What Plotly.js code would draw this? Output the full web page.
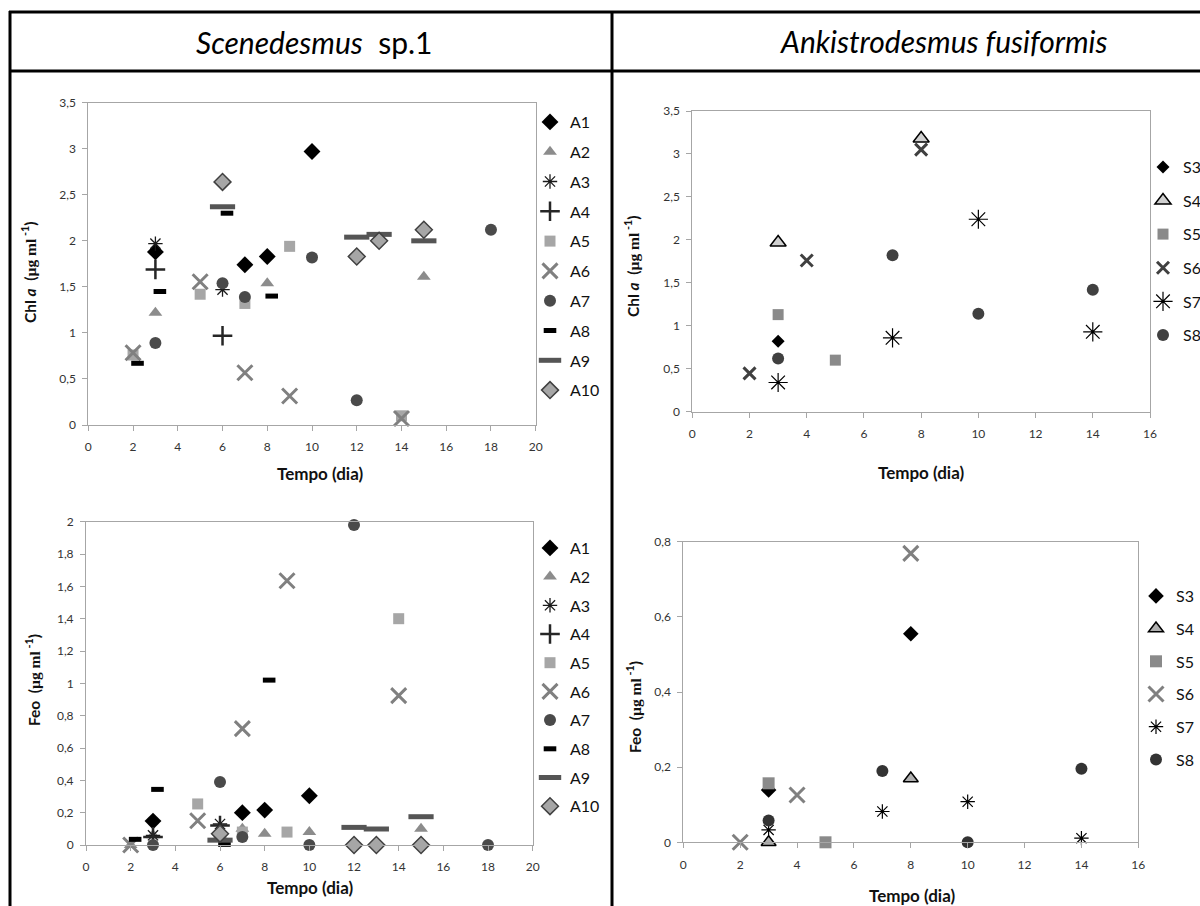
<!DOCTYPE html>
<html>
<head>
<meta charset="utf-8">
<script src="https://cdn.plot.ly/plotly-3.0.1.min.js"></script>
<style>
html,body{margin:0;padding:0;background:#fff;overflow:hidden;width:1200px;height:906px;}
#chart{width:1200px;height:906px;display:block;}
</style>
</head>
<body>
<div id="chart"></div>
<script>
// ---------------- DATA ----------------
// Scenedesmus sp.1 — Chl a (µg ml-1)
const chlA1_x = [3, 7, 8, 10];           const chlA1_y = [1.88, 1.74, 1.83, 2.97];
const chlA2_x = [3, 8, 15];              const chlA2_y = [1.22, 1.54, 1.61];
const chlA3_x = [3, 6];                  const chlA3_y = [1.97, 1.47];
const chlA4_x = [3, 6];                  const chlA4_y = [1.69, 0.97];
const chlA5_x = [2, 5, 7, 9, 14];        const chlA5_y = [0.76, 1.42, 1.32, 1.94, 0.1];
const chlA6_x = [2, 5, 7, 9, 14];        const chlA6_y = [0.785, 1.556, 0.568, 0.315, 0.07];
const chlA7_x = [3, 6, 7, 10, 12, 18];   const chlA7_y = [0.89, 1.54, 1.39, 1.82, 0.27, 2.12];
const chlA8_x = [2.2, 3.2, 6.2, 8.2];    const chlA8_y = [0.67, 1.45, 2.30, 1.40];
const chlA9_x = [6, 12, 13, 15];         const chlA9_y = [2.37, 2.04, 2.07, 2.0];
const chlA10_x = [6, 12, 13, 15];        const chlA10_y = [2.64, 1.83, 2.0, 2.12];

// Scenedesmus sp.1 — Feo (µg ml-1)
const feoA1_x = [3, 7, 8, 10];           const feoA1_y = [0.148, 0.2, 0.216, 0.305];
const feoA2_x = [2, 3, 6, 7, 8, 10, 15]; const feoA2_y = [0, 0.06, 0.06, 0.1, 0.07, 0.08, 0.1];
const feoA3_x = [3, 6];                  const feoA3_y = [0.06, 0.13];
const feoA4_x = [3, 6];                  const feoA4_y = [0.05, 0.12];
const feoA5_x = [5, 7, 9, 14];           const feoA5_y = [0.254, 0.08, 0.08, 1.40];
const feoA6_x = [2, 5, 7, 9, 14];        const feoA6_y = [0, 0.15, 0.72, 1.635, 0.924];
const feoA7_x = [3, 6, 7, 10, 12, 18];   const feoA7_y = [0, 0.39, 0.05, 0, 1.98, 0];
const feoA8_x = [2.2, 3.2, 6.2, 8.2];    const feoA8_y = [0.035, 0.344, 0.004, 1.02];
const feoA9_x = [6, 12, 13, 15];         const feoA9_y = [0.03, 0.109, 0.099, 0.175];
const feoA10_x = [6, 12, 13, 15];        const feoA10_y = [0.07, 0, 0, 0];

// Ankistrodesmus fusiformis — Chl a (µg ml-1)
const chlS3_x = [3];                     const chlS3_y = [0.82];
const chlS4_x = [3, 8];                  const chlS4_y = [1.97, 3.18];
const chlS5_x = [3, 5];                  const chlS5_y = [1.13, 0.60];
const chlS6_x = [2, 4, 8];               const chlS6_y = [0.446, 1.76, 3.05];
const chlS7_x = [3, 7, 10, 14];          const chlS7_y = [0.34, 0.86, 2.24, 0.93];
const chlS8_x = [3, 7, 10, 14];          const chlS8_y = [0.62, 1.82, 1.14, 1.42];

// Ankistrodesmus fusiformis — Feo (µg ml-1)
const feoS3_x = [3, 8];                  const feoS3_y = [0.139, 0.555];
const feoS4_x = [3, 8];                  const feoS4_y = [0, 0.17];
const feoS5_x = [3, 5];                  const feoS5_y = [0.157, 0];
const feoS6_x = [2, 4, 8];               const feoS6_y = [0, 0.126, 0.769];
const feoS7_x = [3, 7, 10, 14];          const feoS7_y = [0.033, 0.082, 0.108, 0.011];
const feoS8_x = [3, 7, 10, 14];          const feoS8_y = [0.058, 0.19, 0, 0.196];

const seriesA = ['A1','A2','A3','A4','A5','A6','A7','A8','A9','A10'];
const seriesS = ['S3','S4','S5','S6','S7','S8'];

// ---------------- STYLES ----------------
const styleA = {
  A1: {symbol:'diamond', size:13, color:'#000000'},
  A2: {symbol:'triangle-up', size:12, color:'#8c8c8c'},
  A3: {symbol:'asterisk-open', size:12, color:'#1a1a1a', line:{color:'#1a1a1a', width:1.3}},
  A4: {symbol:'cross-thin-open', size:14, color:'#262626', line:{color:'#262626', width:2.5}},
  A5: {symbol:'square', size:11, color:'#a6a6a6'},
  A6: {symbol:'x-thin-open', size:15, color:'#808080', line:{color:'#808080', width:3}},
  A7: {symbol:'circle', size:12, color:'#4a4a4a'},
  A8: {symbol:'line-ew-open', size:9, color:'#000000', line:{color:'#000000', width:5}},
  A9: {symbol:'line-ew-open', size:18, color:'#555555', line:{color:'#555555', width:5}},
  A10:{symbol:'diamond', size:13, color:'#a6a6a6', line:{color:'#404040', width:1.5}}
};
const styleS_top = {
  S3: {symbol:'diamond', size:10, color:'#000000'},
  S4: {symbol:'triangle-up', size:14, color:'#d0d0d0', line:{color:'#000000', width:1.5}},
  S5: {symbol:'square', size:11, color:'#8a8a8a'},
  S6: {symbol:'x-thin-open', size:12, color:'#404040', line:{color:'#404040', width:3}},
  S7: {symbol:'asterisk-open', size:16, color:'#000000', line:{color:'#000000', width:1.2}},
  S8: {symbol:'circle', size:12, color:'#404040'}
};
const styleS_bot = {
  S3: {symbol:'diamond', size:12, color:'#000000'},
  S4: {symbol:'triangle-up', size:13, color:'#b0b0b0', line:{color:'#000000', width:1.5}},
  S5: {symbol:'square', size:12, color:'#8a8a8a'},
  S6: {symbol:'x-thin-open', size:15, color:'#808080', line:{color:'#808080', width:3}},
  S7: {symbol:'asterisk-open', size:12, color:'#000000', line:{color:'#000000', width:1.2}},
  S8: {symbol:'circle', size:12, color:'#333333'}
};

function trace(x, y, name, st, ax, lg) {
  const m = {symbol: st.symbol, size: st.size, color: st.color};
  if (st.line) m.line = st.line;
  return {type:'scatter', mode:'markers', x:x, y:y, name:name, marker:m,
          xaxis:'x'+ax, yaxis:'y'+ax, legend:lg, legendgroup:lg+name, cliponaxis:false,
          hoverinfo:'x+y+name'};
}

const dataTL = [[chlA1_x,chlA1_y],[chlA2_x,chlA2_y],[chlA3_x,chlA3_y],[chlA4_x,chlA4_y],[chlA5_x,chlA5_y],
                [chlA6_x,chlA6_y],[chlA7_x,chlA7_y],[chlA8_x,chlA8_y],[chlA9_x,chlA9_y],[chlA10_x,chlA10_y]];
const dataBL = [[feoA1_x,feoA1_y],[feoA2_x,feoA2_y],[feoA3_x,feoA3_y],[feoA4_x,feoA4_y],[feoA5_x,feoA5_y],
                [feoA6_x,feoA6_y],[feoA7_x,feoA7_y],[feoA8_x,feoA8_y],[feoA9_x,feoA9_y],[feoA10_x,feoA10_y]];
const dataTR = [[chlS3_x,chlS3_y],[chlS4_x,chlS4_y],[chlS5_x,chlS5_y],[chlS6_x,chlS6_y],[chlS7_x,chlS7_y],[chlS8_x,chlS8_y]];
const dataBR = [[feoS3_x,feoS3_y],[feoS4_x,feoS4_y],[feoS5_x,feoS5_y],[feoS6_x,feoS6_y],[feoS7_x,feoS7_y],[feoS8_x,feoS8_y]];

const traces = [];
seriesA.forEach((n,i)=>traces.push(trace(dataTL[i][0], dataTL[i][1], n, styleA[n], '', 'legend')));
seriesA.forEach((n,i)=>traces.push(trace(dataBL[i][0], dataBL[i][1], n, styleA[n], '2', 'legend2')));
seriesS.forEach((n,i)=>traces.push(trace(dataTR[i][0], dataTR[i][1], n, styleS_top[n], '3', 'legend3')));
seriesS.forEach((n,i)=>traces.push(trace(dataBR[i][0], dataBR[i][1], n, styleS_bot[n], '4', 'legend4')));

// ---------------- LAYOUT ----------------
const W = 1200, H = 906;
const px = v => v / W;
const py = v => 1 - v / H;
const FONT = 'Lato, Carlito, "Open Sans", sans-serif';

function xax(l, r, max, anchor) {
  return {domain:[px(l), px(r)], range:[0, max], dtick:2, tick0:0, anchor:anchor,
          showline:true, mirror:true, linecolor:'#a6a6a6', linewidth:1,
          ticks:'outside', ticklen:5, tickcolor:'#a6a6a6', ticklabelstandoff:6,
          showgrid:false, zeroline:false, fixedrange:true, automargin:false,
          tickfont:{family:FONT, size:12, color:'#333'}};
}
function yax(top, bot, max, dt, anchor) {
  return {domain:[py(bot), py(top)], range:[0, max], dtick:dt, tick0:0, anchor:anchor,
          showline:true, mirror:true, linecolor:'#a6a6a6', linewidth:1,
          ticks:'outside', ticklen:5, tickcolor:'#a6a6a6', ticklabelstandoff:4,
          showgrid:false, zeroline:false, fixedrange:true, automargin:false,
          tickfont:{family:FONT, size:12, color:'#333'}};
}

function legendAt(xl, ytop, gap) {
  return {x:px(xl), y:py(ytop), xanchor:'left', yanchor:'top', bgcolor:'rgba(0,0,0,0)',
          borderwidth:0, tracegroupgap:gap, traceorder:'grouped',
          font:{family:FONT, size:16, color:'#111'}};
}

const SERIF = "'Liberation Serif', 'DejaVu Serif', serif";
function ytitle(prefix, x, y) {
  return {xref:'paper', yref:'paper', x:px(x), y:py(y), showarrow:false, textangle:-90,
          xanchor:'center', yanchor:'middle',
          text:'<b>'+prefix+'  (<span style="font-family:'+SERIF+'">µg ml</span><sup> -1</sup>)</b>',
          font:{family:FONT, size:15.5, color:'#111'}};
}
function xtitle(x, y) {
  return {xref:'paper', yref:'paper', x:px(x), y:py(y), showarrow:false,
          xanchor:'center', yanchor:'middle', text:'<b>Tempo (dia)</b>',
          font:{family:FONT, size:17, color:'#111'}};
}

const layout = {
  width:W, height:H, margin:{l:0, r:0, t:0, b:0, autoexpand:false}, autosize:false,
  paper_bgcolor:'#ffffff', plot_bgcolor:'#ffffff',
  separators:', ', showlegend:true, hovermode:'closest',
  font:{family:FONT, color:'#111'},
  xaxis:  xax(88.3, 535.7, 20, 'y'),
  yaxis:  yax(102.7, 425, 3.5, 0.5, 'x'),
  xaxis2: xax(86, 532.7, 20, 'y2'),
  yaxis2: yax(521.7, 845, 2, 0.2, 'x2'),
  xaxis3: xax(692.3, 1150, 16, 'y3'),
  yaxis3: yax(111, 411.7, 3.5, 0.5, 'x3'),
  xaxis4: xax(683.3, 1138.3, 16, 'y4'),
  yaxis4: yax(541.7, 842.3, 0.8, 0.2, 'x4'),
  legend:  legendAt(530, 105, 6.0),
  legend2: legendAt(530, 531, 4.9),
  legend3: legendAt(1143, 150, 9.8),
  legend4: legendAt(1136, 579, 8.9),
  annotations: [
    {xref:'paper', yref:'paper', x:px(314), y:py(42), showarrow:false, xanchor:'center', yanchor:'middle',
     text:'<i>Scenedesmus</i>  sp.1', font:{family:FONT, size:30, color:'#000'}},
    {xref:'paper', yref:'paper', x:px(944), y:py(41), showarrow:false, xanchor:'center', yanchor:'middle',
     text:'<i>Ankistrodesmus fusiformis</i>', font:{family:FONT, size:30, color:'#000'}},
    ytitle('Chl <i>a</i>', 28, 272),
    ytitle('Feo', 32, 680),
    ytitle('Chl <i>a</i>', 632, 266),
    ytitle('Feo', 633, 707),
    xtitle(320, 473),
    xtitle(310, 887),
    xtitle(921, 472),
    xtitle(912, 895)
  ],
  shapes: [
    {type:'line', xref:'paper', yref:'paper', x0:px(10), x1:px(10), y0:py(11), y1:0, line:{color:'#000', width:3}},
    {type:'line', xref:'paper', yref:'paper', x0:px(612), x1:px(612), y0:py(11), y1:0, line:{color:'#000', width:3}},
    {type:'line', xref:'paper', yref:'paper', x0:px(9), x1:1, y0:py(12), y1:py(12), line:{color:'#000', width:3}},
    {type:'line', xref:'paper', yref:'paper', x0:px(9), x1:1, y0:py(71), y1:py(71), line:{color:'#000', width:3}}
  ]
};

Plotly.newPlot('chart', traces, layout, {displayModeBar:false});
</script>
</body>
</html>
